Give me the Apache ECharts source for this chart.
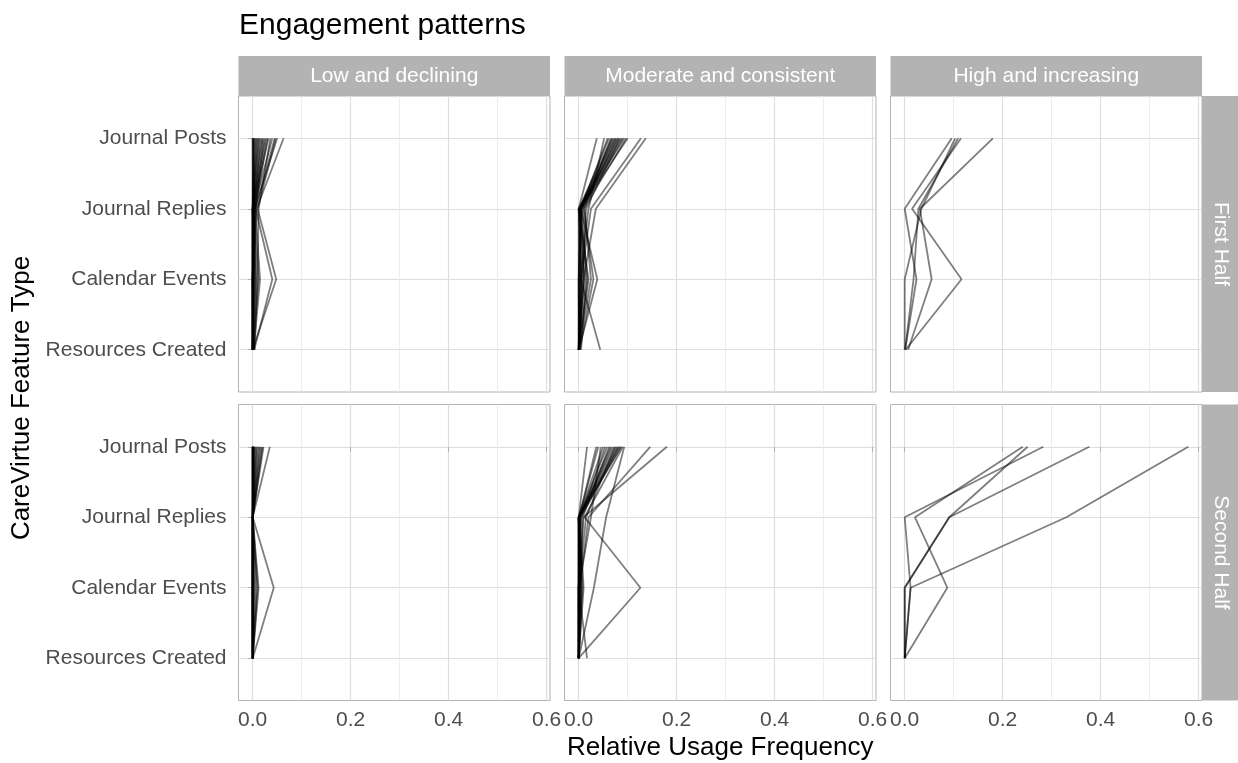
<!DOCTYPE html>
<html>
<head>
<meta charset="utf-8">
<script src="https://cdn.jsdelivr.net/npm/echarts@6/dist/echarts.min.js"></script>
<style>
  html, body { margin: 0; padding: 0; background: #ffffff; }
  #chart { width: 1238px; height: 763px; }
</style>
</head>
<body>
<div id="chart"></div>
<script>
// Feature types along the vertical axis (top to bottom)
const featureTypes = ['Journal Posts', 'Journal Replies', 'Calendar Events', 'Resources Created'];
// Facet columns and rows
const patternGroups = ['Low and declining', 'Moderate and consistent', 'High and increasing'];
const periods = ['First Half', 'Second Half'];
// Horizontal axis ticks
const xTickValues = [0, 0.2, 0.4, 0.6];
const xMinorValues = [0.1, 0.3, 0.5];

// One row per user: [Journal Posts, Journal Replies, Calendar Events, Resources Created]
const lowFirst = [
  [0.063, 0.008, 0.002, 0.000],
  [0.050, 0.004, 0.000, 0.002],
  [0.047, 0.010, 0.048, 0.000],
  [0.045, 0.006, 0.040, 0.003],
  [0.040, 0.002, 0.000, 0.000],
  [0.036, 0.012, 0.010, 0.004],
  [0.032, 0.000, 0.000, 0.000],
  [0.030, 0.005, 0.015, 0.002],
  [0.027, 0.003, 0.000, 0.000],
  [0.025, 0.000, 0.005, 0.000],
  [0.022, 0.006, 0.000, 0.001],
  [0.020, 0.002, 0.012, 0.000],
  [0.018, 0.000, 0.000, 0.000],
  [0.015, 0.004, 0.003, 0.000],
  [0.013, 0.000, 0.000, 0.000],
  [0.011, 0.002, 0.008, 0.002],
  [0.009, 0.000, 0.000, 0.000],
  [0.007, 0.001, 0.000, 0.000],
  [0.005, 0.000, 0.002, 0.000],
  [0.003, 0.000, 0.000, 0.000],
  [0.002, 0.000, 0.000, 0.000],
  [0.000, 0.000, 0.000, 0.000],
  [0.001, 0.003, 0.000, 0.000],
  [0.000, 0.000, 0.006, 0.000]
];
const lowSecond = [
  [0.035, 0.000, 0.000, 0.000],
  [0.022, 0.000, 0.043, 0.000],
  [0.020, 0.000, 0.012, 0.000],
  [0.018, 0.000, 0.000, 0.000],
  [0.015, 0.000, 0.008, 0.000],
  [0.013, 0.000, 0.000, 0.000],
  [0.010, 0.000, 0.005, 0.000],
  [0.008, 0.000, 0.000, 0.000],
  [0.006, 0.000, 0.000, 0.000],
  [0.004, 0.000, 0.003, 0.000],
  [0.003, 0.000, 0.000, 0.000],
  [0.002, 0.000, 0.000, 0.000],
  [0.001, 0.000, 0.000, 0.000],
  [0.000, 0.000, 0.000, 0.000],
  [0.000, 0.000, 0.000, 0.000],
  [0.000, 0.000, 0.000, 0.000],
  [0.000, 0.000, 0.000, 0.000],
  [0.000, 0.000, 0.000, 0.000],
  [0.000, 0.000, 0.010, 0.000],
  [0.000, 0.000, 0.000, 0.000]
];
const moderateFirst = [
  [0.137, 0.035, 0.010, 0.000],
  [0.127, 0.025, 0.005, 0.002],
  [0.100, 0.004, 0.038, 0.000],
  [0.097, 0.010, 0.030, 0.002],
  [0.093, 0.002, 0.012, 0.000],
  [0.090, 0.006, 0.004, 0.044],
  [0.087, 0.000, 0.020, 0.000],
  [0.084, 0.015, 0.008, 0.001],
  [0.080, 0.003, 0.000, 0.000],
  [0.077, 0.008, 0.015, 0.005],
  [0.073, 0.001, 0.006, 0.000],
  [0.070, 0.004, 0.002, 0.000],
  [0.066, 0.012, 0.025, 0.000],
  [0.062, 0.002, 0.001, 0.002],
  [0.059, 0.005, 0.010, 0.000],
  [0.052, 0.020, 0.003, 0.000],
  [0.037, 0.000, 0.000, 0.000],
  [0.075, 0.003, 0.018, 0.000],
  [0.082, 0.006, 0.000, 0.001],
  [0.068, 0.000, 0.005, 0.000]
];
const moderateSecond = [
  [0.180, 0.010, 0.000, 0.000],
  [0.146, 0.020, 0.002, 0.000],
  [0.093, 0.056, 0.031, 0.000],
  [0.090, 0.012, 0.126, 0.000],
  [0.087, 0.000, 0.005, 0.000],
  [0.085, 0.003, 0.000, 0.000],
  [0.082, 0.000, 0.008, 0.000],
  [0.080, 0.005, 0.000, 0.000],
  [0.077, 0.000, 0.003, 0.000],
  [0.074, 0.015, 0.000, 0.017],
  [0.072, 0.000, 0.000, 0.000],
  [0.068, 0.002, 0.010, 0.000],
  [0.065, 0.000, 0.000, 0.000],
  [0.062, 0.008, 0.004, 0.000],
  [0.058, 0.000, 0.000, 0.000],
  [0.054, 0.004, 0.000, 0.000],
  [0.050, 0.000, 0.002, 0.000],
  [0.045, 0.025, 0.000, 0.000],
  [0.040, 0.000, 0.000, 0.000],
  [0.036, 0.001, 0.006, 0.000],
  [0.017, 0.000, 0.000, 0.000]
];
const highFirst = [
  [0.180, 0.031, 0.055, 0.007],
  [0.115, 0.015, 0.116, 0.002],
  [0.096, 0.000, 0.024, 0.001],
  [0.103, 0.034, 0.000, 0.000],
  [0.109, 0.028, 0.018, 0.001]
];
const highSecond = [
  [0.579, 0.330, 0.012, 0.000],
  [0.377, 0.091, 0.000, 0.000],
  [0.251, 0.091, 0.000, 0.000],
  [0.283, 0.000, 0.012, 0.000],
  [0.241, 0.021, 0.087, 0.000]
];

const panelLines = [
  [lowFirst, moderateFirst, highFirst],
  [lowSecond, moderateSecond, highSecond]
];

// Panel geometry
const FONT = '"Liberation Sans", Arial, sans-serif';
const colLeft = [238.5, 564.5, 890.5];
const panelWidth = 311.5;
const rowTop = [96, 404.5];
const panelHeight = 296;
const xMin = -0.029, xMax = 0.607;
const stripFill = '#b3b3b3';
const gridColor = '#dedede';
const minorGridColor = '#e9e9e9';

const grids = [], xAxes = [], minorXAxes = [], yAxes = [], series = [];

periods.forEach((period, r) => {
  patternGroups.forEach((group, c) => {
    const idx = r * 3 + c;
    grids.push({
      left: colLeft[c], top: rowTop[r], width: panelWidth, height: panelHeight,
      show: true, borderColor: '#b3b3b3', borderWidth: 1, backgroundColor: 'transparent'
    });
    const bottomRow = r === periods.length - 1;
    const leftCol = c === 0;
    xAxes.push({
      type: 'value', gridIndex: idx, min: xMin, max: xMax, position: 'bottom',
      axisLine: { show: false },
      axisTick: { show: bottomRow, customValues: xTickValues, length: 5, lineStyle: { color: '#b3b3b3', width: 1 } },
      axisLabel: {
        show: bottomRow, customValues: xTickValues, margin: 9,
        color: '#4d4d4d', fontSize: 21, fontFamily: FONT,
        formatter: v => v.toFixed(1)
      },
      splitLine: { show: true, lineStyle: { color: gridColor, width: 1.2 } }
    });
    minorXAxes.push({
      type: 'value', gridIndex: idx, min: xMin, max: xMax, position: 'top',
      axisLine: { show: false },
      axisTick: { show: false, customValues: xMinorValues },
      axisLabel: { show: false, customValues: xMinorValues },
      splitLine: { show: true, lineStyle: { color: minorGridColor, width: 0.8 } }
    });
    yAxes.push({
      type: 'value', gridIndex: idx, min: -0.6, max: 3.6, inverse: true,
      axisLine: { show: false },
      axisTick: { show: leftCol, customValues: [0, 1, 2, 3], length: 5, lineStyle: { color: '#b3b3b3', width: 1 } },
      axisLabel: {
        show: leftCol, customValues: [0, 1, 2, 3], margin: 12,
        color: '#4d4d4d', fontSize: 21, fontFamily: FONT,
        formatter: v => featureTypes[Math.round(v)]
      },
      splitLine: { show: true, lineStyle: { color: gridColor, width: 1.2 } }
    });
    panelLines[r][c].forEach(vals => {
      series.push({
        type: 'line', xAxisIndex: idx, yAxisIndex: idx,
        symbol: 'none', silent: true, animation: false,
        lineStyle: { color: 'rgba(0,0,0,0.5)', width: 1.8 },
        data: vals.map((v, k) => [v, k])
      });
    });
  });
});

// Facet strips and axis titles
const graphics = [];
patternGroups.forEach((group, c) => {
  graphics.push({ type: 'rect', silent: true, shape: { x: colLeft[c], y: 56, width: panelWidth, height: 40 }, style: { fill: stripFill } });
  graphics.push({ type: 'text', silent: true, x: colLeft[c] + panelWidth / 2, y: 76,
    style: { text: group, fill: '#ffffff', font: '21px ' + FONT, align: 'center', verticalAlign: 'middle', textAlign: 'center', textVerticalAlign: 'middle' } });
});
const stripX = colLeft[2] + panelWidth;
periods.forEach((period, r) => {
  graphics.push({ type: 'rect', silent: true, shape: { x: stripX, y: rowTop[r], width: 1238 - stripX, height: panelHeight }, style: { fill: stripFill } });
  graphics.push({ type: 'text', silent: true, x: stripX + 19, y: rowTop[r] + panelHeight / 2, rotation: -Math.PI / 2,
    style: { text: period, fill: '#ffffff', font: '21px ' + FONT, align: 'center', verticalAlign: 'middle', textAlign: 'center', textVerticalAlign: 'middle' } });
});
graphics.push({ type: 'text', silent: true, x: (colLeft[0] + stripX) / 2, y: 748,
  style: { text: 'Relative Usage Frequency', fill: '#000000', font: '26px ' + FONT, align: 'center', verticalAlign: 'middle', textAlign: 'center', textVerticalAlign: 'middle' } });
graphics.push({ type: 'text', silent: true, x: 22, y: 398, rotation: Math.PI / 2,
  style: { text: 'CareVirtue Feature Type', fill: '#000000', font: '26px ' + FONT, align: 'center', verticalAlign: 'middle', textAlign: 'center', textVerticalAlign: 'middle' } });
graphics.push({ type: 'text', silent: true, x: 239, y: 26,
  style: { text: 'Engagement patterns', fill: '#000000', font: '30px ' + FONT, align: 'left', verticalAlign: 'middle', textAlign: 'left', textVerticalAlign: 'middle' } });

const chart = echarts.init(document.getElementById('chart'), null, { renderer: 'canvas' });
chart.setOption({
  backgroundColor: '#ffffff',
  animation: false,
  grid: grids,
  xAxis: xAxes.concat(minorXAxes),
  yAxis: yAxes,
  series: series,
  graphic: graphics
});
</script>
</body>
</html>
